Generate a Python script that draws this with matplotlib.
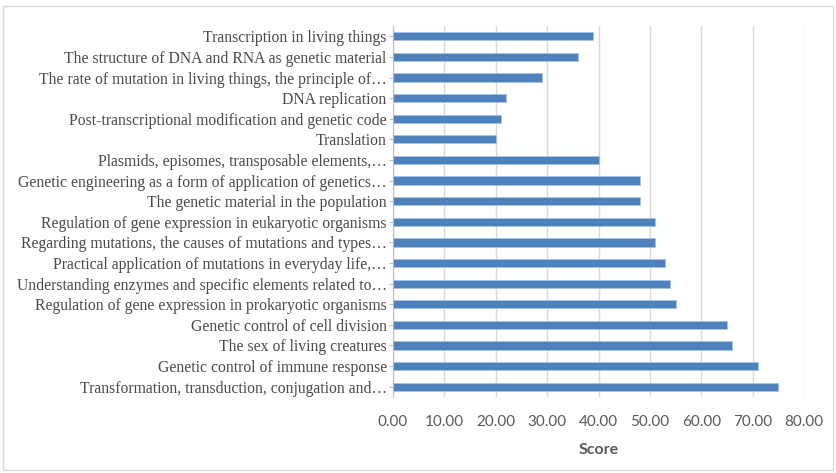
import matplotlib
matplotlib.use("Agg")
import matplotlib.pyplot as plt
from matplotlib.patches import Rectangle

# categories listed bottom to top
topics = [
    "Transformation, transduction, conjugation and\u2026",
    "Genetic control of immune response",
    "The sex of living creatures",
    "Genetic control of cell division",
    "Regulation of gene expression in prokaryotic organisms",
    "Understanding enzymes and specific elements related to\u2026",
    "Practical application of mutations in everyday life,\u2026",
    "Regarding mutations, the causes of mutations and types\u2026",
    "Regulation of gene expression in eukaryotic organisms",
    "The genetic material in the population",
    "Genetic engineering as a form of application of genetics\u2026",
    "Plasmids, episomes, transposable elements,\u2026",
    "Translation",
    "Post-transcriptional modification and genetic code",
    "DNA replication",
    "The rate of mutation in living things, the principle of\u2026",
    "The structure of DNA and RNA as genetic material",
    "Transcription in living things",
]
scores = [75, 71, 66, 65, 55, 54, 53, 51, 51, 48, 48, 40, 20, 21, 22, 29, 36, 39]
xticks = [0, 10, 20, 30, 40, 50, 60, 70, 80]

fig = plt.figure(figsize=(8.36, 4.73), dpi=100)
ax = fig.add_axes([393 / 836, 1 - 397 / 473, (804 - 393) / 836, (397 - 26) / 473])

y = range(len(topics))
ax.barh(y, scores, height=0.4, color="#4F81BD", edgecolor="#A9C1E3", linewidth=0.6, zorder=3)

ax.set_xlim(0, 80)
ax.set_ylim(-0.5, len(topics) - 0.5)
ax.set_xticks(xticks)
ax.set_xticklabels([f"{v:.2f}" for v in xticks], family="Lato", fontsize=11, color="#595959")
ax.set_yticks(list(y))
ax.set_yticklabels(topics, family="Liberation Serif", fontsize=11.3, color="#4A4A4A")
ax.tick_params(axis="x", length=0, pad=13)
ax.tick_params(axis="y", length=3, color="#BFBFBF", pad=1.5)
ax.xaxis.grid(True, color="#D9D9D9", linewidth=1, zorder=0)

for side in ["top", "right", "bottom"]:
    ax.spines[side].set_visible(False)
ax.spines["left"].set_color("#BFBFBF")

ax.set_xlabel("Score", family="Lato", fontweight="bold", fontsize=11.5, color="#595959", labelpad=10)

# chart border
fig.patches.append(Rectangle((3 / 836, 3 / 473), 830 / 836, 464 / 473, transform=fig.transFigure,
                             fill=False, edgecolor="#D9D9D9", linewidth=1))

fig.savefig("out.png", dpi=100)
